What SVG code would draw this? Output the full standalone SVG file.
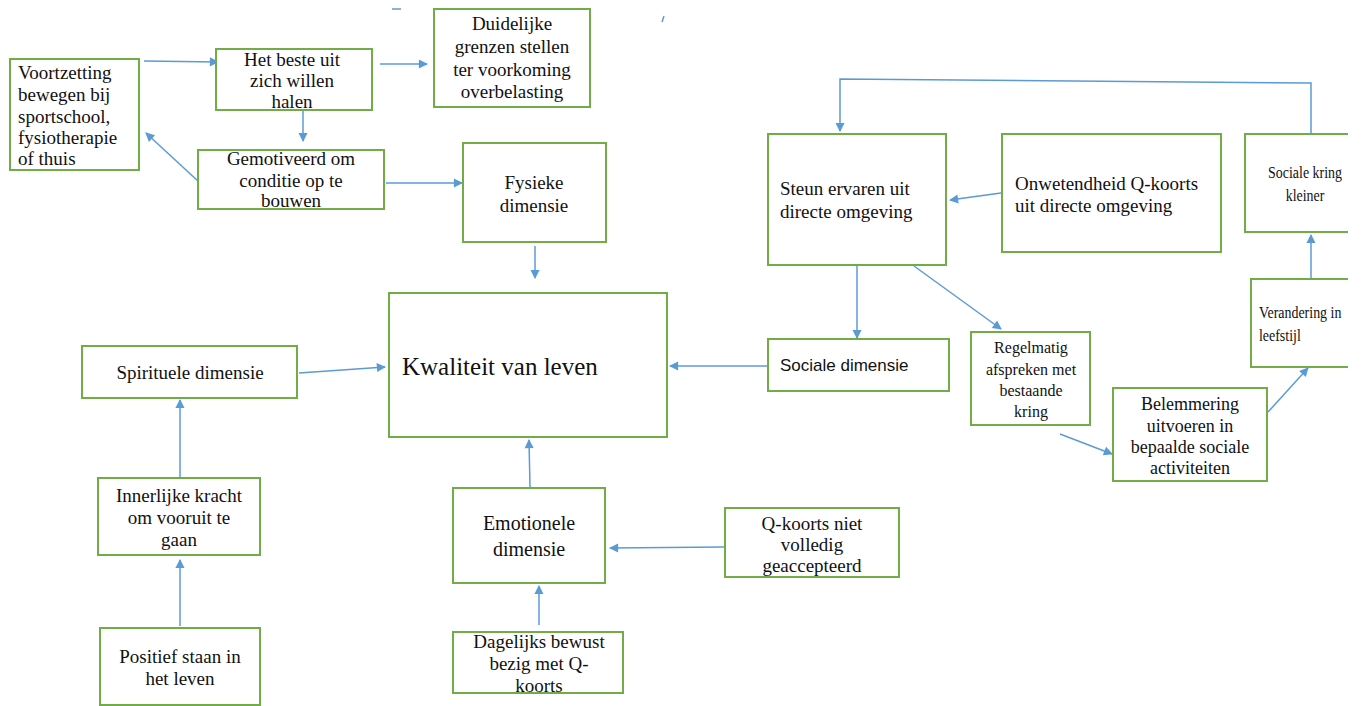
<svg xmlns="http://www.w3.org/2000/svg" width="1363" height="706" viewBox="0 0 1363 706">
<style>
.box{fill:#fff;stroke:#70AD47;stroke-width:2}
.t{font-family:"Liberation Serif","Times New Roman",serif;font-size:19px;fill:#111}
.c{text-anchor:middle}
.s{font-family:"Liberation Sans",Arial,sans-serif;font-size:16px;fill:#111}
.ln{fill:none;stroke:#5B9BD5;stroke-width:1.5}
.ar{fill:none;stroke:#5B9BD5;stroke-width:1.5;marker-end:url(#ah)}
</style>
<defs>
<marker id="ah" viewBox="0 0 10 10" refX="9" refY="5" markerWidth="7" markerHeight="7" markerUnits="userSpaceOnUse" orient="auto" overflow="visible">
<path d="M0,0 L10,5 L0,10 z" fill="#5B9BD5" transform="scale(1.3) translate(-2,-1.2)"/>
</marker>
<clipPath id="clipR"><rect x="0" y="0" width="1348" height="706"/></clipPath>
</defs>
<rect width="1363" height="706" fill="#fff"/>

<g id="connectors">
<line class="ar" x1="144" y1="61" x2="218" y2="62"/>
<line class="ar" x1="380" y1="64" x2="427" y2="64"/>
<line class="ar" x1="303" y1="111" x2="303" y2="141"/>
<line class="ar" x1="199" y1="182" x2="146" y2="133"/>
<line class="ar" x1="386" y1="183" x2="462" y2="183"/>
<line class="ar" x1="535" y1="246" x2="535" y2="278"/>
<line class="ar" x1="299" y1="373" x2="385" y2="367"/>
<line class="ar" x1="180" y1="477" x2="180" y2="400"/>
<line class="ar" x1="180" y1="626" x2="180" y2="560"/>
<line class="ar" x1="530" y1="487" x2="529" y2="440"/>
<line class="ar" x1="539" y1="625" x2="539" y2="586"/>
<line class="ar" x1="724" y1="547" x2="610" y2="548"/>
<line class="ar" x1="767" y1="366" x2="670" y2="366"/>
<line class="ar" x1="857" y1="266" x2="857" y2="338"/>
<line class="ar" x1="914" y1="266" x2="1001" y2="329"/>
<line class="ar" x1="1060" y1="434" x2="1112" y2="454"/>
<line class="ar" x1="1268" y1="412" x2="1308" y2="368"/>
<line class="ar" x1="1311" y1="278" x2="1311" y2="235"/>
<line class="ar" x1="1001" y1="193" x2="950" y2="200"/>
<polyline class="ar" points="1311,133 1311,83 840,79 840,131"/>
<line class="ln" x1="392" y1="9" x2="401" y2="9" stroke="#9db3c8"/>
<line class="ln" x1="664" y1="16" x2="662" y2="22" stroke="#9db3c8"/>
</g>

<g id="n-voortzetting">
<rect class="box" x="10" y="59" width="129" height="111"/>
<text class="t" x="18" y="79">Voortzetting</text>
<text class="t" x="18" y="101">bewegen bij</text>
<text class="t" x="18" y="123">sportschool,</text>
<text class="t" x="18" y="144">fysiotherapie</text>
<text class="t" x="18" y="165">of thuis</text>
</g>
<g id="n-hetbeste">
<rect class="box" x="216" y="49" width="156" height="61"/>
<text class="t c" x="292" y="66">Het beste uit</text>
<text class="t c" x="292" y="87">zich willen</text>
<text class="t c" x="292" y="108">halen</text>
</g>
<g id="n-duidelijke">
<rect class="box" x="434" y="9" width="156" height="98"/>
<text class="t c" x="512" y="30">Duidelijke</text>
<text class="t c" x="512" y="53">grenzen stellen</text>
<text class="t c" x="512" y="76">ter voorkoming</text>
<text class="t c" x="512" y="98">overbelasting</text>
</g>
<g id="n-gemotiveerd">
<rect class="box" x="198" y="150" width="186" height="59"/>
<text class="t c" x="291" y="165">Gemotiveerd om</text>
<text class="t c" x="291" y="187">conditie op te</text>
<text class="t c" x="291" y="207">bouwen</text>
</g>
<g id="n-fysieke">
<rect class="box" x="463" y="143" width="143" height="99"/>
<text class="t c" x="534" y="189">Fysieke</text>
<text class="t c" x="534" y="212">dimensie</text>
</g>
<g id="n-kwaliteit">
<rect class="box" x="389" y="293" width="278" height="144"/>
<text class="t" x="402" y="375" style="font-size:25px">Kwaliteit  van leven</text>
</g>
<g id="n-spirituele">
<rect class="box" x="82" y="346" width="215" height="52"/>
<text class="t c" x="190" y="379">Spirituele  dimensie</text>
</g>
<g id="n-innerlijke">
<rect class="box" x="98" y="478" width="162" height="77"/>
<text class="t c" x="179" y="502">Innerlijke  kracht</text>
<text class="t c" x="179" y="524">om vooruit te</text>
<text class="t c" x="179" y="546">gaan</text>
</g>
<g id="n-positief">
<rect class="box" x="100" y="628" width="160" height="77"/>
<text class="t c" x="180" y="663">Positief staan in</text>
<text class="t c" x="180" y="685">het leven</text>
</g>
<g id="n-emotionele">
<rect class="box" x="453" y="488" width="152" height="95"/>
<text class="t c" x="529" y="530" style="font-size:20px">Emotionele</text>
<text class="t c" x="529" y="556" style="font-size:20px">dimensie</text>
</g>
<g id="n-dagelijks">
<rect class="box" x="453" y="632" width="170" height="61"/>
<text class="t c" x="539" y="648">Dagelijks  bewust</text>
<text class="t c" x="539" y="670">bezig met Q-</text>
<text class="t c" x="539" y="692">koorts</text>
</g>
<g id="n-qkoorts">
<rect class="box" x="725" y="508" width="174" height="69"/>
<text class="t c" x="812" y="530">Q-koorts niet</text>
<text class="t c" x="812" y="551">volledig</text>
<text class="t c" x="812" y="572">geaccepteerd</text>
</g>
<g id="n-sociale">
<rect class="box" x="768" y="339" width="181" height="52"/>
<text class="s" x="780" y="371" style="font-size:17px">Sociale dimensie</text>
</g>
<g id="n-steun">
<rect class="box" x="768" y="134" width="178" height="131"/>
<text class="t" x="780" y="195">Steun ervaren uit</text>
<text class="t" x="780" y="218">directe  omgeving</text>
</g>
<g id="n-onwetendheid">
<rect class="box" x="1002" y="134" width="219" height="118"/>
<text class="t" x="1015" y="190">Onwetendheid Q-koorts</text>
<text class="t" x="1015" y="212">uit directe  omgeving</text>
</g>
<g id="n-socialekring" clip-path="url(#clipR)">
<rect class="box" x="1245" y="134" width="130" height="98"/>
<text class="t c" transform="translate(1305,178) scale(0.82,1)" style="font-size:17px">Sociale kring</text>
<text class="t c" transform="translate(1305,201) scale(0.82,1)" style="font-size:17px">kleiner</text>
</g>
<g id="n-verandering" clip-path="url(#clipR)">
<rect class="box" x="1251" y="279" width="130" height="88"/>
<text class="t" transform="translate(1259,318) scale(0.82,1)" style="font-size:17px">Verandering in</text>
<text class="t" transform="translate(1259,341) scale(0.82,1)" style="font-size:17px">leefstijl</text>
</g>
<g id="n-regelmatig">
<rect class="box" x="971" y="332" width="119" height="93"/>
<text class="t c" x="1031" y="353" style="font-size:16px">Regelmatig</text>
<text class="t c" x="1031" y="375" style="font-size:16px">afspreken met</text>
<text class="t c" x="1031" y="396" style="font-size:16px">bestaande</text>
<text class="t c" x="1031" y="417" style="font-size:16px">kring</text>
</g>
<g id="n-belemmering">
<rect class="box" x="1113" y="388" width="154" height="93"/>
<text class="t c" x="1190" y="410" style="font-size:18px">Belemmering</text>
<text class="t c" x="1190" y="432" style="font-size:18px">uitvoeren in</text>
<text class="t c" x="1190" y="453" style="font-size:18px">bepaalde sociale</text>
<text class="t c" x="1190" y="474" style="font-size:18px">activiteiten</text>
</g>
</svg>
